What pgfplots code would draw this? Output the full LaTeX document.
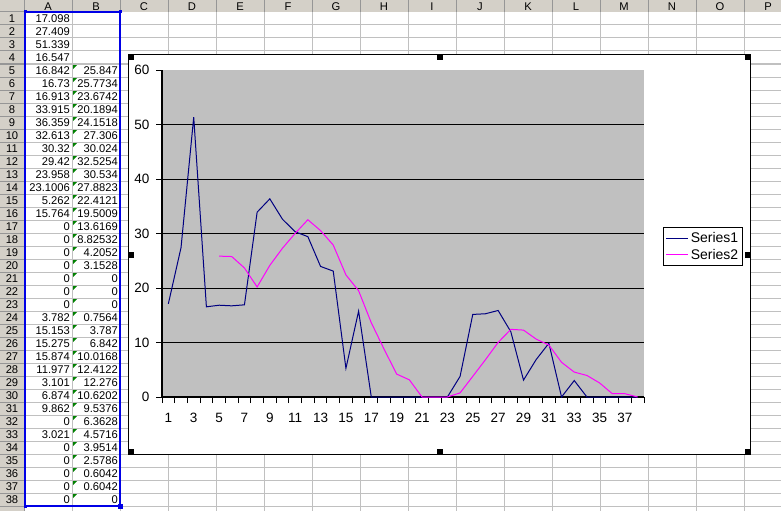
\documentclass[border=0pt]{standalone}
\usepackage{fontspec}
\setmainfont{Liberation Sans}
\usepackage{pgfplots}
\pgfplotsset{compat=1.18}
\usepackage{pgfplotstable}

\definecolor{hdr}{RGB}{212,208,200}
\definecolor{hdrline}{RGB}{150,150,150}
\definecolor{cellline}{RGB}{192,192,192}
\definecolor{plotbg}{RGB}{192,192,192}
\definecolor{navy}{RGB}{0,0,128}
\definecolor{mag}{RGB}{255,0,255}
\definecolor{xlgreen}{RGB}{0,128,0}
\definecolor{selblue}{RGB}{0,0,230}

\newcommand\cellfont{\fontsize{11.2}{12}\selectfont}
\newcommand\chartfont{\fontsize{13.5}{15}\selectfont}
\newcommand\legfont{\fontsize{14}{16}\selectfont}

% column A and B of the sheet (b empty for rows 1-4)
\pgfplotstableread{
x  a        b
1  17.098   nan
2  27.409   nan
3  51.339   nan
4  16.547   nan
5  16.842   25.847
6  16.73    25.7734
7  16.913   23.6742
8  33.915   20.1894
9  36.359   24.1518
10 32.613   27.306
11 30.32    30.024
12 29.42    32.5254
13 23.958   30.534
14 23.1006  27.8823
15 5.262    22.4121
16 15.764   19.5009
17 0        13.6169
18 0        8.82532
19 0        4.2052
20 0        3.1528
21 0        0
22 0        0
23 0        0
24 3.782    0.7564
25 15.153   3.787
26 15.275   6.842
27 15.874   10.0168
28 11.977   12.4122
29 3.101    12.276
30 6.874    10.6202
31 9.862    9.5376
32 0        6.3628
33 3.021    4.5716
34 0        3.9514
35 0        2.5786
36 0        0.6042
37 0        0.6042
38 0        0
}\sheetdata

\begin{document}
\begin{tikzpicture}
\begin{scope}[x=1pt,y=-1pt]
\path[use as bounding box, fill=white] (0,0) rectangle (781,511);
% headers
\fill[hdr] (0,0) rectangle (781,12);
\fill[hdr] (0,12) rectangle (24,511);
% cell grid
\foreach \k in {1,...,16} \draw[cellline, line width=1pt] ({24+48*\k},12) -- ({24+48*\k},511);
\foreach \r in {1,...,39} \draw[cellline, line width=1pt] (24,{12+13*\r}) -- (781,{12+13*\r});
% header separators
\foreach \k in {0,...,16} \draw[hdrline, line width=1pt] ({24+48*\k},0) -- ({24+48*\k},12);
\foreach \r in {0,...,39} \draw[hdrline, line width=1pt] (0,{12+13*\r}) -- (24,{12+13*\r});
\draw[hdrline, line width=1pt] (24,0) -- (24,511);
% header text
\foreach \c [count=\k from 0] in {A,B,C,D,E,F,G,H,I,J,K,L,M,N,O,P}
  \node[font=\cellfont, inner sep=0pt] at ({48+48*\k},6.5) {\c};
\foreach \r in {1,...,38}
  \node[font=\cellfont, inner sep=0pt] at (12,{5.5+13*\r}) {\r};
% cell values
\foreach \v [count=\r] in {17.098,27.409,51.339,16.547,16.842,16.73,16.913,33.915,36.359,32.613,30.32,29.42,23.958,23.1006,5.262,15.764,0,0,0,0,0,0,0,3.782,15.153,15.275,15.874,11.977,3.101,6.874,9.862,0,3.021,0,0,0,0,0}
  \node[font=\cellfont, inner sep=0pt, anchor=east] at (70,{5.5+13*\r}) {\v};
\foreach \v [count=\r from 5] in {25.847,25.7734,23.6742,20.1894,24.1518,27.306,30.024,32.5254,30.534,27.8823,22.4121,19.5009,13.6169,8.82532,4.2052,3.1528,0,0,0,0.7564,3.787,6.842,10.0168,12.4122,12.276,10.6202,9.5376,6.3628,4.5716,3.9514,2.5786,0.6042,0.6042,0}
  \node[font=\cellfont, inner sep=0pt, anchor=east] at (118,{5.5+13*\r}) {\v};
% number-stored-as-text markers
\foreach \r in {5,...,38}
  \fill[xlgreen] (73,{13*\r}) -- ++(4,0) -- ++(-4,4) -- cycle;
% selection of A1:B38
\draw[selblue, line width=2pt] (25,12) rectangle (120,506);
\fill[selblue] (23.5,10.5) rectangle ++(3,3);
\fill[selblue] (118.5,10.5) rectangle ++(3,3);
\fill[selblue] (23.5,504.5) rectangle ++(3,3);
\fill[selblue] (117.5,503.5) rectangle ++(5,5);
% chart area
\draw[fill=white, line width=1.2pt] (128.5,54.5) rectangle (750.5,454.5);
\foreach \hx/\hy in {128/54,437/54,745/54,128/252,745/252,128/449,437/449,745/449}
  \fill[black] (\hx,\hy) rectangle ++(6,6);
\coordinate (pa) at (162,397);
\end{scope}

\begin{axis}[
    at={(pa)}, anchor=south west,
    width=482pt, height=327pt, scale only axis,
    xmin=0.5, xmax=38.5, ymin=0, ymax=60,
    axis x line*=bottom, axis y line*=left,
    axis line style={black, line width=1.2pt},
    axis background/.style={fill=plotbg},
    tick align=outside, major tick length=6pt,
    tick style={black, line width=1pt},
    ytick={0,10,...,50}, ymajorgrids=true,
    major grid style={black, line width=1pt},
    extra y ticks={60}, extra y tick style={ymajorgrids=false},
    yticklabel style={xshift=-3pt},
    xtick={0.5,1.5,...,38.5}, xticklabels={},
    extra x ticks={1,3,...,37},
    extra x tick labels={1,3,5,7,9,11,13,15,17,19,21,23,25,27,29,31,33,35,37},
    extra x tick style={major tick length=0pt, xticklabel style={yshift=-13pt}},
    ticklabel style={font=\chartfont},
    /pgf/number format/assume math mode=true,
    legend style={at={(1.1224,0.4602)}, anchor=center, draw=black,
        line width=1pt, fill=white, font=\legfont, row sep=1pt,
        inner xsep=2pt, inner ysep=2.5pt},
    legend cell align=left,
    legend image code/.code={\draw[#1] (0pt,0pt) -- (22pt,0pt);},
]
\addplot[navy, line width=1pt, no marks] table[x=x, y=a] {\sheetdata};
\addplot[mag, line width=1pt, no marks] table[x=x, y=b] {\sheetdata};
\legend{Series1, Series2}
\end{axis}
\end{tikzpicture}
\end{document}
